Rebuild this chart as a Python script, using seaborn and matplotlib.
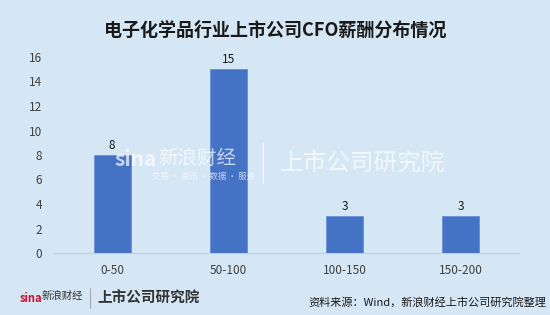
import matplotlib
matplotlib.use("Agg")
import matplotlib.pyplot as plt
import seaborn as sns
import pandas as pd

categories = ["0-50", "50-100", "100-150", "150-200"]
counts = [8, 15, 3, 3]
yticks = [0, 2, 4, 6, 8, 10, 12, 14, 16]
title = "电子化学品行业上市公司CFO薪酬分布情况"
source = "资料来源：Wind，新浪财经上市公司研究院整理"

BG = "#D5E6F4"
BAR = "#4472C4"

sns.set_theme(style="white")
plt.rcParams['font.family'] = ['Noto Sans CJK SC', 'DejaVu Sans']

df = pd.DataFrame({"cat": categories, "n": counts})

fig = plt.figure(figsize=(5.5, 3.15), dpi=100)
fig.patch.set_facecolor(BG)
ax = fig.add_axes([54/550, 1-253/315, 465/550, 196/315])
ax.set_facecolor(BG)
ax.patch.set_alpha(0)

# watermark (behind bars)
WA = 0.7
fig.text(115/550, 1-160/315, "sina", fontsize=15, fontweight='bold', style='italic',
         color='white', alpha=WA, va='center', ha='left', zorder=0)
fig.text(158/550, 1-158/315, "新浪财经", fontsize=14, style='italic',
         color='white', alpha=WA, va='center', ha='left', zorder=0)
fig.text(152/550, 1-176/315, "交易 · 资讯 · 数据 · 服务", fontsize=6, color='white',
         alpha=WA, va='center', ha='left', zorder=0)
fig.add_artist(plt.Line2D([263/550, 263/550], [1-143/315, 1-183/315], color='white',
                          lw=1, alpha=WA, zorder=0))
fig.text(280/550, 1-163/315, "上市公司研究院", fontsize=17, color='white', alpha=WA,
         style='italic', va='center', ha='left', zorder=0)

sns.barplot(data=df, x="cat", y="n", color=BAR, width=0.32, ax=ax,
            edgecolor="#6A8FD3", linewidth=0.6, saturation=1, zorder=3)

for i, v in enumerate(counts):
    ax.text(i, v + 0.25, str(v), ha='center', va='bottom', fontsize=8.5, color='#1a1a1a')

ax.set_ylim(0, 16)
ax.set_xlim(-0.5, 3.5)
ax.set_yticks(yticks)
ax.set_yticklabels([str(t) for t in yticks])
ax.set_xlabel("")
ax.set_ylabel("")
for s in ["top", "right", "left"]:
    ax.spines[s].set_visible(False)
ax.spines["bottom"].set_color("#C5D2DE")
ax.spines["bottom"].set_linewidth(1)
ax.tick_params(axis='both', length=0, labelsize=8.5, labelcolor='#404040')
ax.tick_params(axis='y', pad=8.5)
ax.tick_params(axis='x', pad=8)

fig.text(0.5, 1-30/315, title, ha='center', va='center', fontsize=13,
         fontweight='bold', color='#1a1a1a')

# footer
fig.text(20/550, 1-298/315, "sina", fontsize=8, fontweight='bold', style='italic',
         color='#C8102E', va='center', ha='left')
fig.text(42/550, 1-296/315, "新浪财经", fontsize=7.5, color='#333333', style='italic',
         va='center', ha='left')
fig.add_artist(plt.Line2D([90/550, 90/550], [1-288/315, 1-308/315], color='#999999', lw=0.6))
fig.text(97/550, 1-298/315, "上市公司研究院", fontsize=10.5, color='#333333',
         fontweight='bold', style='italic', va='center', ha='left')
fig.text(546/550, 1-302/315, source, fontsize=8, color='#1a1a1a', ha='right', va='center')

fig.savefig("out.png", dpi=100, facecolor=BG)
